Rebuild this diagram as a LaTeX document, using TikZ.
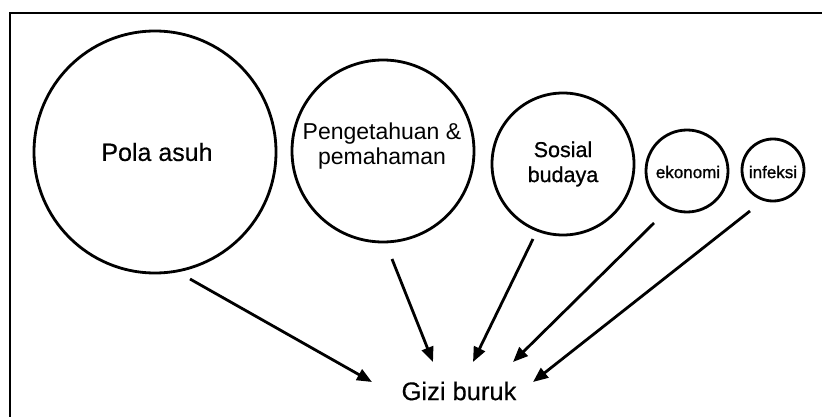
\documentclass[tikz,border=0pt]{standalone}
\usepackage{fontspec}
\setmainfont{Liberation Sans}
\newfontfamily\heavyfont[FakeBold=0.8]{Liberation Sans}
\newfontfamily\midfont[FakeBold=0.4]{Liberation Sans}
\usetikzlibrary{arrows.meta}
\begin{document}
\begin{tikzpicture}[x=1pt,y=-1pt,
  bubble/.style={circle,draw,line width=2.8pt,inner sep=0pt,align=center},
  link/.style={line width=2.8pt,-{Triangle[length=15pt,width=12pt]}},
  frameline/.style={line width=2.6pt}]
\useasboundingbox (0,0) rectangle (822,417);
\draw[frameline] (823,13) -- (10,13) -- (10,418);
\node[bubble,minimum size=242pt] (c1) at (155,152) {};
\node[font=\midfont\fontsize{25}{30}\selectfont] at (157,152) {Pola asuh};
\node[bubble,minimum size=182pt] (c2) at (383,151) {};
\node[font=\fontsize{23}{25}\selectfont,align=center] at (382,146) {Pengetahuan \&\\pemahaman};
\node[bubble,minimum size=142pt] (c3) at (563,164) {};
\node[font=\heavyfont\fontsize{21.5}{25}\selectfont,align=center] at (563,164) {Sosial\\budaya};
\node[bubble,minimum size=82pt] (c4) at (687,171) {};
\node[font=\heavyfont\fontsize{17}{20}\selectfont] at (688,172) {ekonomi};
\node[bubble,minimum size=62pt] (c5) at (773,170) {};
\node[font=\heavyfont\fontsize{17}{20}\selectfont] at (773,172) {infeksi};
\node[font=\midfont\fontsize{25.5}{30}\selectfont] (g) at (459,391) {Gizi buruk};
\coordinate (s1) at (190,279);
\coordinate (e1) at (372,382);
\coordinate (s2) at (392,259);
\coordinate (e2) at (433,362);
\coordinate (s3) at (533,239);
\coordinate (e3) at (473,362);
\coordinate (s4) at (654,223);
\coordinate (e4) at (513,362);
\coordinate (s5) at (750,211);
\coordinate (e5) at (533,382);
\draw[link] (s1) -- (e1);
\draw[link] (s2) -- (e2);
\draw[link] (s3) -- (e3);
\draw[link] (s4) -- (e4);
\draw[link] (s5) -- (e5);
\end{tikzpicture}
\end{document}
